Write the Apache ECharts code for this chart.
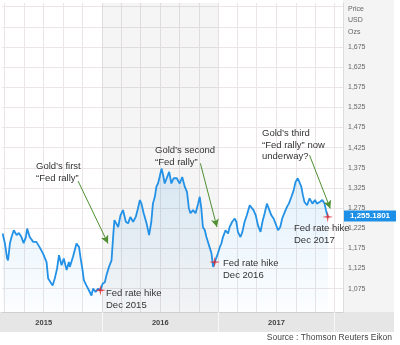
<!DOCTYPE html>
<html><head><meta charset="utf-8">
<script src="https://cdn.jsdelivr.net/npm/echarts@6/dist/echarts.min.js"></script>
<style>html,body{margin:0;padding:0;background:#fff}#c{width:400px;height:345px}</style>
</head><body><div id="c"></div>
<script>
const dates = ['2015-02-23','2015-03-02','2015-03-09','2015-03-12','2015-03-18','2015-03-23','2015-03-30','2015-04-08','2015-04-15','2015-04-23','2015-04-30','2015-05-07','2015-05-11','2015-05-19','2015-05-30','2015-06-09','2015-06-19','2015-06-30','2015-07-11','2015-07-16','2015-07-21','2015-07-30','2015-08-06','2015-08-13','2015-08-19','2015-08-27','2015-09-03','2015-09-12','2015-09-19','2015-09-22','2015-10-02','2015-10-13','2015-10-21','2015-10-26','2015-11-01','2015-11-05','2015-11-13','2015-11-21','2015-11-29','2015-12-04','2015-12-12','2015-12-20','2015-12-27','2016-01-03','2016-01-10','2016-01-15','2016-01-23','2016-01-31','2016-02-05','2016-02-09','2016-02-13','2016-02-21','2016-02-28','2016-03-07','2016-03-16','2016-03-23','2016-03-30','2016-04-08','2016-04-16','2016-04-23','2016-04-29','2016-05-04','2016-05-11','2016-05-20','2016-05-28','2016-06-04','2016-06-09','2016-06-15','2016-06-20','2016-06-25','2016-06-30','2016-07-06','2016-07-11','2016-07-16','2016-07-21','2016-07-30','2016-08-06','2016-08-13','2016-08-23','2016-09-01','2016-09-09','2016-09-17','2016-09-24','2016-09-30','2016-10-05','2016-10-13','2016-10-21','2016-10-29','2016-11-03','2016-11-08','2016-11-13','2016-11-19','2016-11-24','2016-12-02','2016-12-10','2016-12-15','2016-12-20','2016-12-25','2016-12-30','2017-01-05','2017-01-10','2017-01-15','2017-01-23','2017-01-31','2017-02-05','2017-02-13','2017-02-21','2017-02-26','2017-03-03','2017-03-11','2017-03-17','2017-03-24','2017-03-31','2017-04-09','2017-04-14','2017-04-21','2017-04-28','2017-05-05','2017-05-13','2017-05-19','2017-05-26','2017-06-02','2017-06-08','2017-06-16','2017-06-23','2017-06-29','2017-07-07','2017-07-14','2017-07-20','2017-07-28','2017-08-04','2017-08-10','2017-08-18','2017-08-25','2017-08-31','2017-09-07','2017-09-18','2017-09-23','2017-09-28','2017-10-06','2017-10-14','2017-10-23','2017-10-31','2017-11-06','2017-11-15','2017-11-23','2017-11-30','2017-12-06','2017-12-11'];
const prices = [1212,1188,1150,1145,1188,1203,1220,1208,1213,1203,1188,1203,1224,1203,1191,1191,1178,1162,1141,1100,1096,1083,1101,1125,1158,1133,1150,1121,1141,1129,1154,1187,1178,1150,1121,1096,1083,1071,1058,1075,1067,1075,1071,1087,1091,1108,1129,1145,1203,1245,1241,1228,1257,1270,1241,1237,1253,1241,1253,1274,1295,1286,1262,1237,1208,1241,1286,1303,1328,1336,1352,1373,1357,1336,1340,1365,1336,1349,1349,1336,1352,1328,1315,1274,1262,1270,1262,1286,1303,1274,1228,1220,1203,1183,1162,1129,1141,1145,1162,1178,1187,1203,1220,1212,1228,1241,1249,1241,1216,1203,1216,1241,1257,1282,1286,1270,1257,1232,1216,1241,1262,1286,1290,1257,1249,1237,1220,1228,1249,1265,1278,1286,1303,1319,1340,1349,1328,1307,1290,1282,1299,1286,1295,1286,1290,1295,1286,1265,1253];
const hikeDates = ['2015-12-27','2016-12-20','2017-12-10'];
const hikePrices = [1071,1141,1253];
const hikeLabels = ['Fed rate hike\nDec 2015','Fed rate hike\nDec 2016','Fed rate hike\nDec 2017'];
const rallyLabels = ['Gold\u2019s first\n\u201cFed rally\u201d','Gold\u2019s second\n\u201cFed rally\u201d','Gold\u2019s third\n\u201cFed rally\u201d now\nunderway?'];
const yTickValues = [1075,1125,1175,1225,1275,1325,1375,1425,1475,1525,1575,1625,1675,1725,1775];
const yLabelValues = [1075,1125,1175,1225,1275,1325,1375,1425,1475,1525,1575,1625,1675];
const gridMonths = ['2015-03-01','2015-05-01','2015-07-01','2015-09-01','2015-11-01','2016-01-01','2016-03-01','2016-05-01','2016-07-01','2016-09-01','2016-11-01','2017-01-01','2017-03-01','2017-05-01','2017-07-01','2017-09-01','2017-11-01','2018-01-01'];
const yearStarts = ['2016-01-01','2017-01-01','2018-01-01'];
const yearMids = ['2015-07-02','2016-07-02','2017-07-02'];
const shadedYears = [['2016-01-01','2017-01-01']];
const xRange = ['2015-02-21','2018-01-27'];
const lastPrice = 1255.1801;
const sourceText = 'Source : Thomson Reuters Eikon';
const unitText = 'Price\nUSD\nOzs';

const FONT = 'Liberation Sans, Arial, sans-serif';
const green = '#4f8f31';
const T = s => Date.parse(s + 'T00:00:00Z');
const chart = echarts.init(document.getElementById('c'));
const fmt = v => v.toLocaleString('en-US');
const lineData = dates.map((d,i)=>[T(d),prices[i]]);
const hikeData = hikeDates.map((d,i)=>[T(d),hikePrices[i]]);
const star = 'path://M0,-10 L1.6,-1.6 L10,0 L1.6,1.6 L0,10 L-1.6,1.6 L-10,0 L-1.6,-1.6 Z';

function txt(left, top, text, extra){
  return Object.assign({type:'text', left:left, top:top, z:20, style:{text:text, font:'9.5px '+FONT, fill:'#333', lineHeight:11.5}}, extra||{});
}

chart.setOption({
  animation:false,
  backgroundColor:'#fff',
  grid:{left:2, right:57, top:3, bottom:33},
  xAxis:[{
    type:'value', min:T(xRange[0]), max:T(xRange[1]),
    axisLine:{show:true, lineStyle:{color:'#d0d0d0'}},
    axisTick:{show:true, customValues:yearStarts.map(T), length:20, lineStyle:{color:'#f7f7f7', width:1}},
    axisLabel:{customValues:yearMids.map(T), formatter:v=>String(new Date(v).getUTCFullYear()), fontFamily:FONT, fontWeight:'bold', fontSize:7.5, color:'#444', margin:7},
    splitLine:{show:false}
  },{
    type:'value', min:T(xRange[0]), max:T(xRange[1]), position:'top',
    axisLine:{show:false}, axisLabel:{show:false},
    axisTick:{show:false, customValues:gridMonths.map(T)},
    splitLine:{show:true, lineStyle:{color:'#ebe5e5', width:1}}
  }],
  yAxis:{
    type:'value', position:'right', min:1017, max:1784,
    axisLine:{show:true, lineStyle:{color:'#dcdcdc'}},
    axisTick:{show:false, customValues:yTickValues},
    axisLabel:{customValues:yLabelValues, formatter:v=>fmt(v), fontFamily:FONT, fontSize:7, color:'#666', margin:5},
    splitLine:{show:true, lineStyle:{color:'#ebe5e5', width:1}}
  },
  graphic:[
    {type:'rect', left:343, top:0, z:-10, shape:{width:51, height:312}, style:{fill:'#f4f4f4'}},
    {type:'rect', left:0, top:312, z:-10, shape:{width:394, height:20}, style:{fill:'#e6e6e6'}},
    txt(348, 3, unitText, {style:{text:unitText, font:'7px '+FONT, fill:'#666', lineHeight:11.7}}),
    txt(36, 161, rallyLabels[0]),
    txt(155, 145, rallyLabels[1]),
    txt(262, 128, rallyLabels[2]),
    txt(106, 288, hikeLabels[0]),
    txt(223, 258, hikeLabels[1]),
    txt(294, 223, hikeLabels[2]),
    {type:'text', right:8, top:333, z:20, style:{text:sourceText, font:'8.5px '+FONT, fill:'#444'}}
  ],
  series:[{
    type:'line', data:lineData, showSymbol:false, z:3,
    lineStyle:{color:'#2391e6', width:1.8},
    areaStyle:{color:new echarts.graphic.LinearGradient(0,0,0,1,[{offset:0,color:'rgba(35,145,230,0.20)'},{offset:1,color:'rgba(35,145,230,0.02)'}])},
    markArea:{silent:true, z:1, itemStyle:{color:'rgba(0,0,0,0.04)'}, data:shadedYears.map(r=>[{xAxis:T(r[0])},{xAxis:T(r[1])}])},
    markLine:{
      silent:true, symbol:['none','arrow'], symbolSize:[6,8], z:6,
      lineStyle:{color:green, width:1, type:'solid'},
      label:{show:false},
      data:[
        [{coord:[T('2015-10-18'),1342]},{coord:[T('2016-01-20'),1187]}],
        [{coord:[T('2016-11-05'),1386]},{coord:[T('2016-12-27'),1228]}],
        [{coord:[T('2017-10-14'),1406]},{coord:[T('2017-12-18'),1274]}]
      ]
    }
  },{
    type:'line', data:[], z:9, silent:true,
    markLine:{
      silent:true, symbol:'none', z:9,
      lineStyle:{color:'rgba(0,0,0,0)', width:0},
      data:[{yAxis:lastPrice}],
      label:{show:true, position:'end', distance:1, formatter:()=>lastPrice.toLocaleString('en-US',{minimumFractionDigits:4}), backgroundColor:'#1d8fe6', color:'#fff', fontWeight:'bold', fontFamily:FONT, fontSize:8, padding:[2,6,1,6]}
    }
  },{
    type:'scatter', data:hikeData, symbol:star, symbolSize:11, z:8,
    itemStyle:{color:'#e3252b'}
  }]
});
</script></body></html>
